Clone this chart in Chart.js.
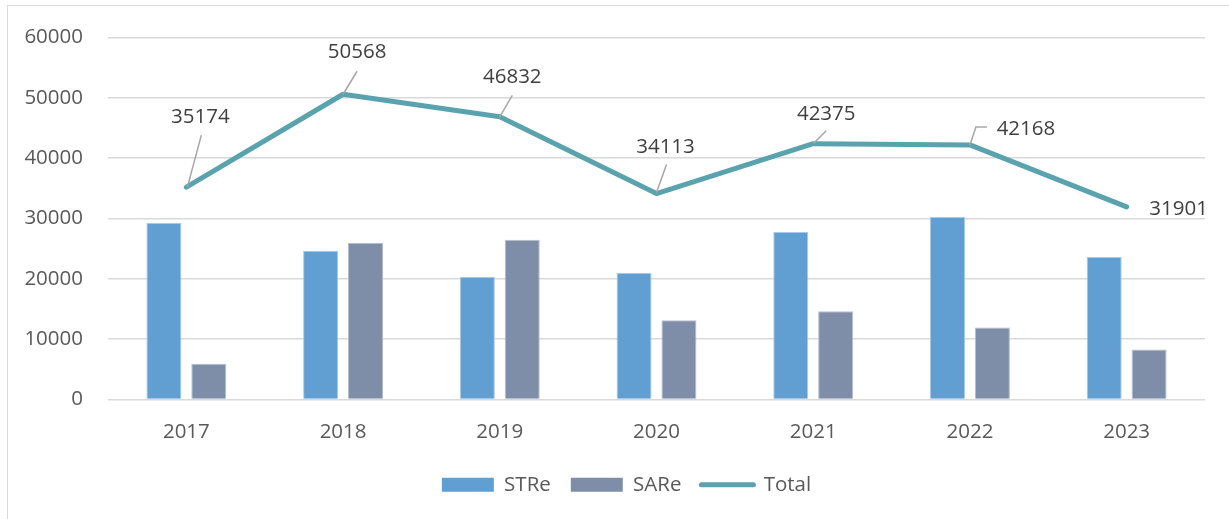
<!DOCTYPE html>
<html>
<head>
<meta charset="utf-8">
<script src="https://cdn.jsdelivr.net/npm/chart.js@4/dist/chart.umd.min.js"></script>
<style>
  html, body { margin: 0; padding: 0; background: #fff; overflow: hidden; }
  #wrap { position: relative; width: 1229px; height: 519px; }
  #frame { position: absolute; left: 7px; top: 5px; width: 1240px; height: 530px; border: 1px solid #d9d9d9; box-sizing: border-box; }
  canvas { position: absolute; left: 0; top: 0; }
</style>
</head>
<body>
<div id="wrap">
  <div id="frame"></div>
  <canvas id="c" width="1229" height="519"></canvas>
</div>
<script>
// ---- data ----
const categories = ['2017', '2018', '2019', '2020', '2021', '2022', '2023'];
const streValues = [29250, 24650, 20350, 21000, 27750, 30250, 23600];
const sareValues = [5924, 25918, 26482, 13113, 14625, 11918, 8301];
const totalValues = [35174, 50568, 46832, 34113, 42375, 42168, 31901];
const yTicks = [0, 10000, 20000, 30000, 40000, 50000, 60000];

// ---- label layout (offsets in px from the point; leader polyline offsets) ----
const labelLayout = [
  { dx: 14, dy: -70, leader: [[15, -52], [1, 0]] },
  { dx: 14, dy: -42, leader: [[14, -23], [0, 0]] },
  { dx: 12.5, dy: -40, leader: [[12.5, -21.5], [0, 0]] },
  { dx: 9, dy: -46, leader: [[10, -29], [0, -1]] },
  { dx: 13, dy: -30, leader: [[13, -13], [0, 0]] },
  { dx: 56, dy: -16, leader: [[17, -18], [6, -18], [0, 0]] },
  { dx: 52, dy: 2, leader: null }
];

const FONT = '"Open Sans", "Liberation Sans", sans-serif';
const FSIZE = 20.5;
const LEGEND_SHIFT = 20;

const lineLabels = {
  id: 'lineLabels',
  afterLayout(chart) {
    if (chart.legend) { chart.legend.left += LEGEND_SHIFT; chart.legend.right += LEGEND_SHIFT; }
  },
  afterDatasetsDraw(chart) {
    const meta = chart.getDatasetMeta(2);
    const ctx = chart.ctx;
    ctx.save();
    meta.data.forEach((pt, i) => {
      const L = labelLayout[i];
      if (L.leader) {
        ctx.beginPath();
        ctx.strokeStyle = '#a6a6a6';
        ctx.lineWidth = 1.5;
        L.leader.forEach((p, k) => {
          const x = pt.x + p[0], y = pt.y + p[1];
          if (k === 0) ctx.moveTo(x, y); else ctx.lineTo(x, y);
        });
        ctx.stroke();
      }
      ctx.fillStyle = '#404040';
      ctx.font = FSIZE + 'px ' + FONT;
      ctx.textAlign = 'center';
      ctx.textBaseline = 'middle';
      ctx.fillText(String(totalValues[i]), pt.x + L.dx, pt.y + L.dy);
    });
    ctx.restore();
  }
};

new Chart(document.getElementById('c'), {
  data: {
    labels: categories,
    datasets: [
      { type: 'bar', label: 'STRe', data: streValues, backgroundColor: '#619ed2', borderColor: '#a9c9e8', borderWidth: 1, categoryPercentage: 0.573, barPercentage: 0.78 },
      { type: 'bar', label: 'SARe', data: sareValues, backgroundColor: '#7f8ea8', borderColor: '#b4bdcc', borderWidth: 1, categoryPercentage: 0.573, barPercentage: 0.78 },
      { type: 'line', label: 'Total', data: totalValues, borderColor: '#5aa3ae', backgroundColor: '#5aa3ae', borderWidth: 5, borderCapStyle: 'round', borderJoinStyle: 'round', pointRadius: 0, pointHoverRadius: 0, tension: 0, order: -1 }
    ]
  },
  options: {
    responsive: false,
    animation: false,
    events: [],
    layout: { padding: { left: 8, right: 24, top: 31, bottom: 14 } },
    scales: {
      x: {
        offset: true,
        grid: { display: false, drawTicks: false },
        border: { display: false },
        ticks: { color: '#595959', font: { family: FONT, size: FSIZE }, padding: 20, maxRotation: 0 },
        afterFit(s) { s.height = 55; }
      },
      y: {
        min: 0, max: 60000,
        afterBuildTicks(s) { s.ticks = yTicks.map(v => ({ value: v })); },
        grid: { color: '#d9d9d9', lineWidth: 1.5, drawTicks: false },
        border: { display: false },
        ticks: { color: '#595959', font: { family: FONT, size: FSIZE }, padding: 25, callback: v => String(v) },
        afterFit(s) { s.width = 100; }
      }
    },
    plugins: {
      tooltip: { enabled: false },
      legend: {
        position: 'bottom',
        labels: {
          usePointStyle: true,
          pointStyleWidth: 52,
          boxHeight: 14,
          padding: 20,
          color: '#595959',
          font: { family: FONT, size: FSIZE },
          generateLabels(chart) {
            return chart.data.datasets.map((ds, i) => {
              const isLine = ds.type === 'line';
              return {
                text: ds.label,
                fillStyle: ds.backgroundColor,
                strokeStyle: isLine ? ds.borderColor : ds.backgroundColor,
                lineWidth: isLine ? 5 : 0,
                lineCap: 'round',
                pointStyle: isLine ? 'line' : 'rect',
                hidden: false,
                datasetIndex: i,
                fontColor: '#595959'
              };
            });
          }
        }
      }
    }
  },
  plugins: [lineLabels]
});
</script>
</body>
</html>
